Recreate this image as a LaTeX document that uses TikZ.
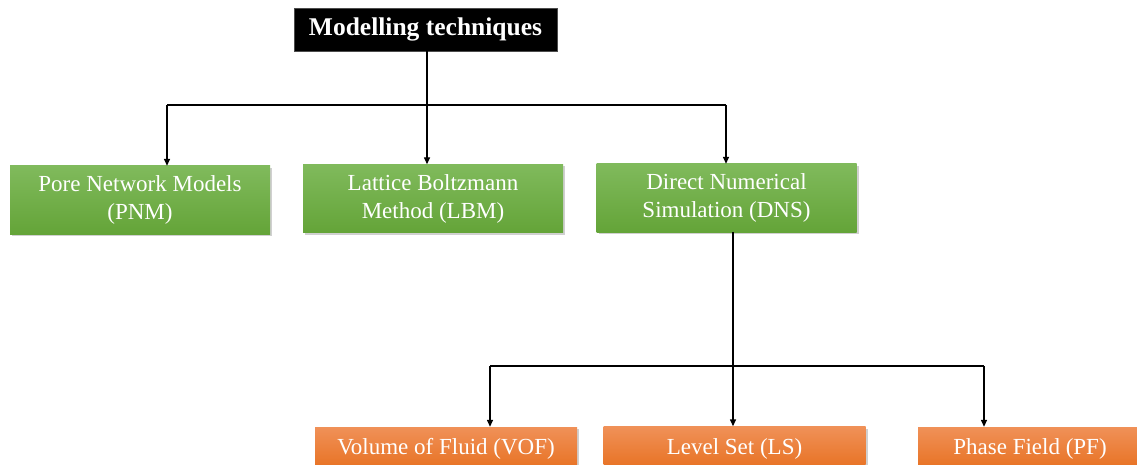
\documentclass[tikz,border=0pt]{standalone}
\usepackage{fontspec}
\setmainfont{Liberation Serif}
\usetikzlibrary{shadows,arrows.meta}
\definecolor{gtop}{RGB}{128,186,92}
\definecolor{gbot}{RGB}{100,164,56}
\definecolor{otop}{RGB}{240,145,88}
\definecolor{obot}{RGB}{231,112,32}
\tikzset{
  base/.style={rectangle, inner sep=0pt, align=center, text=white,
    font=\fontsize{23}{28}\selectfont,
    drop shadow={shadow xshift=2pt, shadow yshift=-2pt, opacity=0.3, fill=black!60}},
  greenbox/.style={base, minimum width=260pt, minimum height=68pt,
    top color=gtop, bottom color=gbot},
  orangebox/.style={base, minimum width=262pt, minimum height=44pt,
    top color=otop, bottom color=obot},
  topbox/.style={rectangle, fill=black, draw=black!70, text=white, inner sep=0pt,
    minimum width=263pt, minimum height=43pt,
    font=\fontsize{25.5}{28}\selectfont\bfseries},
  conn/.style={line width=1.4pt, black},
  arr/.style={conn, -{Triangle[length=7pt,width=6pt]}},
}
\begin{document}
\begin{tikzpicture}[x=1pt,y=-1pt]
\clip (0,0) rectangle (1137,465);
\fill[white] (0,0) rectangle (1137,465);

\node[topbox] (top) at (425.5,29.5) {Modelling techniques};

\node[greenbox] (pnm) at (140,200) {Pore Network Models\\(PNM)};
\node[greenbox] (lbm) at (433,198.5) {Lattice Boltzmann\\Method (LBM)};
\node[greenbox] (dns) at (726.5,198) {Direct Numerical\\Simulation (DNS)};

\node[orangebox] (vof) at (446,449) {Volume of Fluid (VOF)};
\node[orangebox] (ls) at (734.5,448.5) {Level Set (LS)};
\node[orangebox, minimum width=224pt] (pf) at (1030,449) {Phase Field (PF)};

\coordinate (j1) at (427,105);
\coordinate (j1l) at (167,105);
\coordinate (j1r) at (726,105);
\draw[conn] (top.south -| j1) -- (j1);
\draw[conn] (j1l) -- (j1r);
\draw[arr] (j1) -- (lbm.north -| j1);
\draw[arr] (j1l) -- (pnm.north -| j1l);
\draw[arr] (j1r) -- (dns.north -| j1r);

\coordinate (j2) at (733,366);
\coordinate (j2l) at (490,366);
\coordinate (j2r) at (984,366);
\draw[conn] (dns.south -| j2) -- (j2);
\draw[conn] (j2l) -- (j2r);
\draw[arr] (j2) -- (ls.north -| j2);
\draw[arr] (j2l) -- (vof.north -| j2l);
\draw[arr] (j2r) -- (pf.north -| j2r);
\end{tikzpicture}
\end{document}
